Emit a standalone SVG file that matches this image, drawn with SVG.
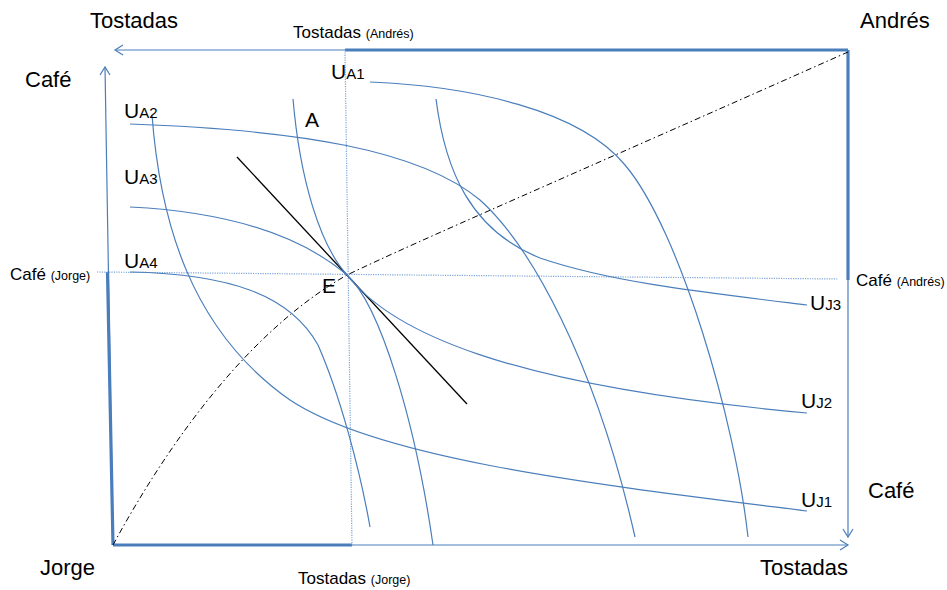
<svg xmlns="http://www.w3.org/2000/svg" width="947" height="590" viewBox="0 0 947 590">
<defs>
<style>
text{font-family:"Liberation Sans",Arial,sans-serif;fill:#000}
.big{font-size:22px}
.mid{font-size:17px}
.sm{font-size:12.5px}
.u{font-size:21px}
.sub{font-size:15px}
.axis{stroke:#4a7ebb;stroke-width:1.2;fill:none}
.thick{stroke:#4a7ebb;stroke-width:3.2;fill:none}
.curve{stroke:#4a7ebb;stroke-width:1.2;fill:none}
.dot{stroke:#7aa3d6;stroke-width:1.2;stroke-dasharray:1.2 1.2;fill:none}
</style>
</defs>
<rect width="947" height="590" fill="#fff"/>
<g id="axes">
<line class="axis" x1="848" y1="50" x2="115" y2="50"/>
<polyline class="axis" points="123,45 115,50 123,55"/>
<line class="axis" x1="113" y1="545" x2="105" y2="67"/>
<polyline class="axis" points="100,75 105,67 110,75"/>
<line class="axis" x1="113" y1="545" x2="848" y2="545"/>
<polyline class="axis" points="840,540 848,545 840,550"/>
<line class="axis" x1="848" y1="50" x2="848" y2="537"/>
<polyline class="axis" points="843,529 848,537 853,529"/>
<line class="thick" x1="345" y1="50" x2="848" y2="50"/>
<line class="thick" x1="848" y1="50" x2="848" y2="280"/>
<line class="thick" x1="113" y1="545" x2="352" y2="545"/>
<line class="thick" x1="107.5" y1="272" x2="113" y2="545"/>
<line class="dot" x1="345" y1="50" x2="352" y2="545"/>
<line class="dot" x1="97" y1="272" x2="838" y2="279"/>
</g>
<g id="contract-curve">
<path d="M113,545 C170,440 250,330 347,275 C420,240 560,180 848,52" fill="none" stroke="#000" stroke-width="1" stroke-dasharray="6 3 1.5 3"/>
</g>
<g id="price-line">
<line x1="237" y1="157" x2="467" y2="404" stroke="#000" stroke-width="1.3"/>
</g>
<g id="andres-curves">
<path class="curve" d="M370,82 C470,86 580,110 625,165 C680,230 735,420 748,537"/>
<path class="curve" d="M130,124 C300,130 420,150 480,200 C530,245 595,360 635,537"/>
<path class="curve" d="M130,207 C230,212 300,235 347,275 C380,305 415,420 433,545"/>
<path class="curve" d="M130,272 C230,274 290,295 318,345 C340,395 360,470 370,527"/>
</g>
<g id="jorge-curves">
<path class="curve" d="M152,115 C160,220 190,330 290,400 C380,460 600,485 807,511"/>
<path class="curve" d="M293,99 C300,180 320,245 347,275 C390,330 500,385 807,413"/>
<path class="curve" d="M436,99 C445,170 470,230 540,258 C610,282 700,292 807,305"/>
</g>
<g id="labels">
<text class="big" x="90" y="28">Tostadas</text>
<text class="big" x="860" y="28">Andrés</text>
<text class="big" x="25" y="87">Café</text>
<text x="293" y="38"><tspan class="mid">Tostadas </tspan><tspan class="sm">(Andrés)</tspan></text>
<text x="10" y="280"><tspan class="mid">Café </tspan><tspan class="sm">(Jorge)</tspan></text>
<text x="856" y="286"><tspan class="mid">Café </tspan><tspan class="sm">(Andrés)</tspan></text>
<text class="big" x="868" y="498">Café</text>
<text class="big" x="760" y="575">Tostadas</text>
<text class="big" x="40" y="575">Jorge</text>
<text x="298" y="584"><tspan class="mid">Tostadas </tspan><tspan class="sm">(Jorge)</tspan></text>
<text class="u" x="305" y="127">A</text>
<text class="u" x="322" y="293">E</text>
<text x="331" y="79"><tspan class="u">U</tspan><tspan class="sub">A1</tspan></text>
<text x="124" y="118"><tspan class="u">U</tspan><tspan class="sub">A2</tspan></text>
<text x="124" y="184"><tspan class="u">U</tspan><tspan class="sub">A3</tspan></text>
<text x="124" y="268"><tspan class="u">U</tspan><tspan class="sub">A4</tspan></text>
<text x="810" y="310"><tspan class="u">U</tspan><tspan class="sub">J3</tspan></text>
<text x="801" y="408"><tspan class="u">U</tspan><tspan class="sub">J2</tspan></text>
<text x="801" y="507"><tspan class="u">U</tspan><tspan class="sub">J1</tspan></text>
</g>
</svg>
